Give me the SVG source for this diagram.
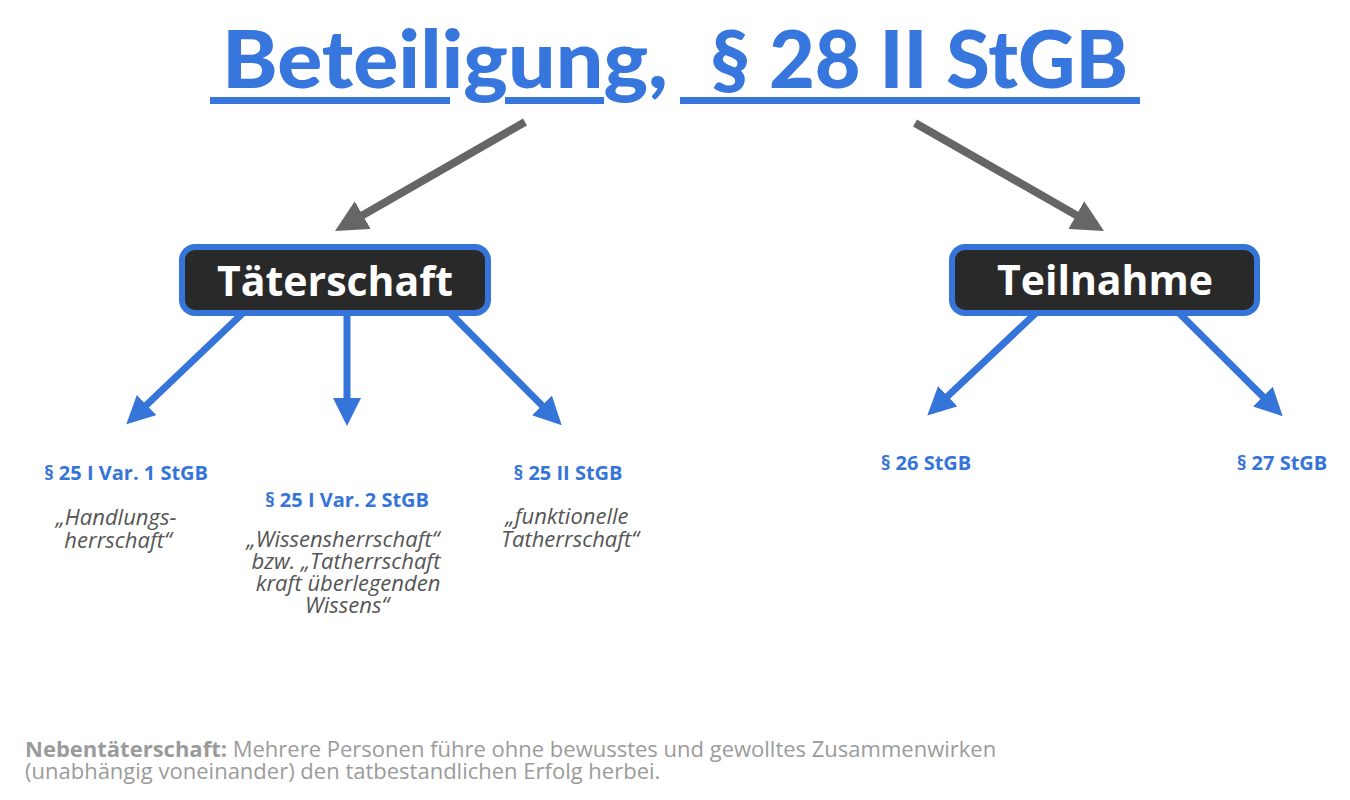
<svg xmlns="http://www.w3.org/2000/svg" width="1350" height="800" viewBox="0 0 1350 800">
<style>
.title{font-family:Lato,"Open Sans",sans-serif;font-weight:900;font-size:80px;fill:#3776dc}
.uline{fill:#3776dc}
.box{fill:#292929;stroke:#3575d9;stroke-width:6}
.boxtxt{font-family:"Open Sans","Noto Sans",sans-serif;font-weight:700;font-size:41px;fill:#ffffff;text-anchor:middle}
.lbl{font-family:"Open Sans","Noto Sans",sans-serif;font-weight:700;font-size:20px;fill:#3575d9;text-anchor:middle}
.it{font-family:"Open Sans","Noto Sans",sans-serif;font-style:italic;font-size:22px;fill:#555555;text-anchor:middle}
.foot{font-family:"Open Sans","Noto Sans",sans-serif;font-size:22px;fill:#9b9b9b}
.grey{stroke:#666666;stroke-width:8;fill:none}
.blue{stroke:#3575d9;stroke-width:7;fill:none}
</style>
<defs>
<marker id="ahg" markerUnits="strokeWidth" markerWidth="4" markerHeight="4" viewBox="0 0 4 4" refX="1" refY="2" orient="auto">
<path d="M0,0 L4,2 L0,4 z" fill="#666666"/>
</marker>
<marker id="ahb" markerUnits="strokeWidth" markerWidth="4" markerHeight="4" viewBox="0 0 4 4" refX="1" refY="2" orient="auto">
<path d="M0,0 L4,2 L0,4 z" fill="#3575d9"/>
</marker>
</defs>
<g id="title">
<text class="title" x="222" y="88" textLength="446" lengthAdjust="spacingAndGlyphs">Beteiligung,</text>
<text class="title" x="710" y="88" textLength="418" lengthAdjust="spacingAndGlyphs">§ 28 II StGB</text>
<rect class="uline" x="210" y="97" width="240" height="7"/>
<rect class="uline" x="505" y="97" width="99" height="7"/>
<rect class="uline" x="680" y="97" width="460" height="7"/>
</g>
<g id="connectors">
<line class="grey" x1="525" y1="122" x2="355.8" y2="219.1" marker-end="url(#ahg)"/>
<line class="grey" x1="915" y1="123" x2="1083.2" y2="219.1" marker-end="url(#ahg)"/>
<line class="blue" x1="244" y1="312" x2="141.5" y2="409.8" marker-end="url(#ahb)"/>
<line class="blue" x1="347" y1="312" x2="347" y2="405" marker-end="url(#ahb)"/>
<line class="blue" x1="449" y1="312" x2="546.9" y2="410.4" marker-end="url(#ahb)"/>
<line class="blue" x1="1037" y1="312" x2="942.6" y2="401" marker-end="url(#ahb)"/>
<line class="blue" x1="1178" y1="312" x2="1267.8" y2="401.5" marker-end="url(#ahb)"/>
</g>
<g id="node-taeterschaft">
<rect class="box" x="182" y="247" width="306" height="66" rx="13"/>
<text class="boxtxt" x="335" y="296">Täterschaft</text>
</g>
<g id="node-teilnahme">
<rect class="box" x="952" y="247" width="305" height="66" rx="13"/>
<text class="boxtxt" x="1105" y="295">Teilnahme</text>
</g>
<g id="node-25-1-1">
<text class="lbl" x="126" y="480">§ 25 I Var. 1 StGB</text>
<text class="it" x="116" y="525">„Handlungs-</text>
<text class="it" x="118" y="548">herrschaft“</text>
</g>
<g id="node-25-1-2">
<text class="lbl" x="347" y="507">§ 25 I Var. 2 StGB</text>
<text class="it" x="343" y="547">„Wissensherrschaft“</text>
<text class="it" x="346" y="569">bzw. „Tatherrschaft</text>
<text class="it" x="348" y="591">kraft überlegenden</text>
<text class="it" x="347" y="613">Wissens“</text>
</g>
<g id="node-25-2">
<text class="lbl" x="568" y="480">§ 25 II StGB</text>
<text class="it" x="567" y="524">„funktionelle</text>
<text class="it" x="570" y="547">Tatherrschaft“</text>
</g>
<g id="node-26">
<text class="lbl" x="926" y="470">§ 26 StGB</text>
</g>
<g id="node-27">
<text class="lbl" x="1282" y="470">§ 27 StGB</text>
</g>
<g id="footer">
<text class="foot" x="25" y="757"><tspan font-weight="700">Nebentäterschaft:</tspan> Mehrere Personen führe ohne bewusstes und gewolltes Zusammenwirken</text>
<text class="foot" x="25" y="779">(unabhängig voneinander) den tatbestandlichen Erfolg herbei.</text>
</g>
</svg>
